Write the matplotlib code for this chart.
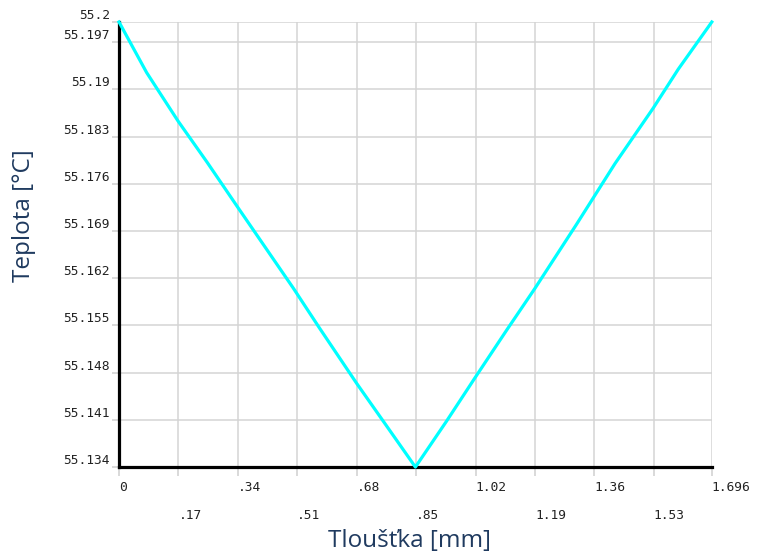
import matplotlib
matplotlib.use("Agg")
import matplotlib.pyplot as plt

# profil teploty po tloustce
tloustka = [0, 0.079, 0.169, 0.252, 0.340, 0.499, 0.575, 0.680, 0.756, 0.848,
            0.937, 1.018, 1.109, 1.190, 1.309, 1.419, 1.528, 1.600, 1.696]
teplota = [55.2, 55.1925, 55.1853, 55.1792, 55.1725, 55.1605, 55.1545, 55.1464, 55.1408, 55.134,
           55.1408, 55.1472, 55.1543, 55.1605, 55.1700, 55.1790, 55.1872, 55.1930, 55.2]

x_major = [0, 0.34, 0.68, 1.02, 1.36, 1.696]
x_major_lab = ["0", ".34", ".68", "1.02", "1.36", "1.696"]
x_minor = [0.17, 0.51, 0.85, 1.19, 1.53]
x_minor_lab = [".17", ".51", ".85", "1.19", "1.53"]
y_ticks = [55.134, 55.141, 55.148, 55.155, 55.162, 55.169, 55.176, 55.183, 55.19, 55.197, 55.2]
y_lab = ["55.134", "55.141", "55.148", "55.155", "55.162", "55.169", "55.176", "55.183", "55.19", "55.197", "55.2"]

fig = plt.figure(figsize=(7.6, 5.58), dpi=100)
ax = fig.add_axes([0.1566, 0.163, 0.78, 0.7976])

ax.plot(tloustka, teplota, color="#00ffff", lw=2.3, zorder=4, clip_on=False)

ax.set_xlim(0, 1.696)
ax.set_ylim(55.134, 55.2)

ax.set_xticks(x_major)
ax.set_xticklabels(x_major_lab)
ax.set_xticks(x_minor, minor=True)
ax.set_xticklabels(x_minor_lab, minor=True)
ax.set_yticks(y_ticks)
ax.set_yticklabels(y_lab)

tick_font = dict(family="DejaVu Sans Mono", size=9.3)
for lab in ax.get_xticklabels() + ax.get_xticklabels(minor=True):
    lab.set_ha("left")
    lab.set_fontfamily(tick_font["family"])
    lab.set_fontsize(tick_font["size"])
for lab in ax.get_yticklabels():
    lab.set_va("bottom")
    lab.set_fontfamily(tick_font["family"])
    lab.set_fontsize(tick_font["size"])

ax.tick_params(axis="x", which="major", length=6.5, width=1.1, color="#d0d0d0", pad=3.5, labelcolor="#222222")
ax.tick_params(axis="x", which="minor", length=6.5, width=1.1, color="#d0d0d0", pad=23.5, labelcolor="#222222")
ax.tick_params(axis="y", length=5, width=1.1, color="#d0d0d0", pad=1.5, labelcolor="#222222")

ax.grid(True, which="both", axis="x", color="#d4d4d4", lw=1.1)
ax.grid(True, which="major", axis="y", color="#d4d4d4", lw=1.1)
ax.set_axisbelow(True)

for s in ["top", "right"]:
    ax.spines[s].set_visible(False)
for s in ["left", "bottom"]:
    ax.spines[s].set_linewidth(2.3)
    ax.spines[s].set_color("black")
    ax.spines[s].set_zorder(3)

lab_font = dict(family="Open Sans", size=17.5, color="#1f3a5f")
ax.set_xlabel("Tloušťka [mm]", **lab_font)
ax.set_ylabel("Teplota [°C]", **lab_font)
ax.xaxis.set_label_coords(0.49, -0.14)
ax.yaxis.set_label_coords(-0.14, 0.566)

fig.savefig("out.png", dpi=100)
